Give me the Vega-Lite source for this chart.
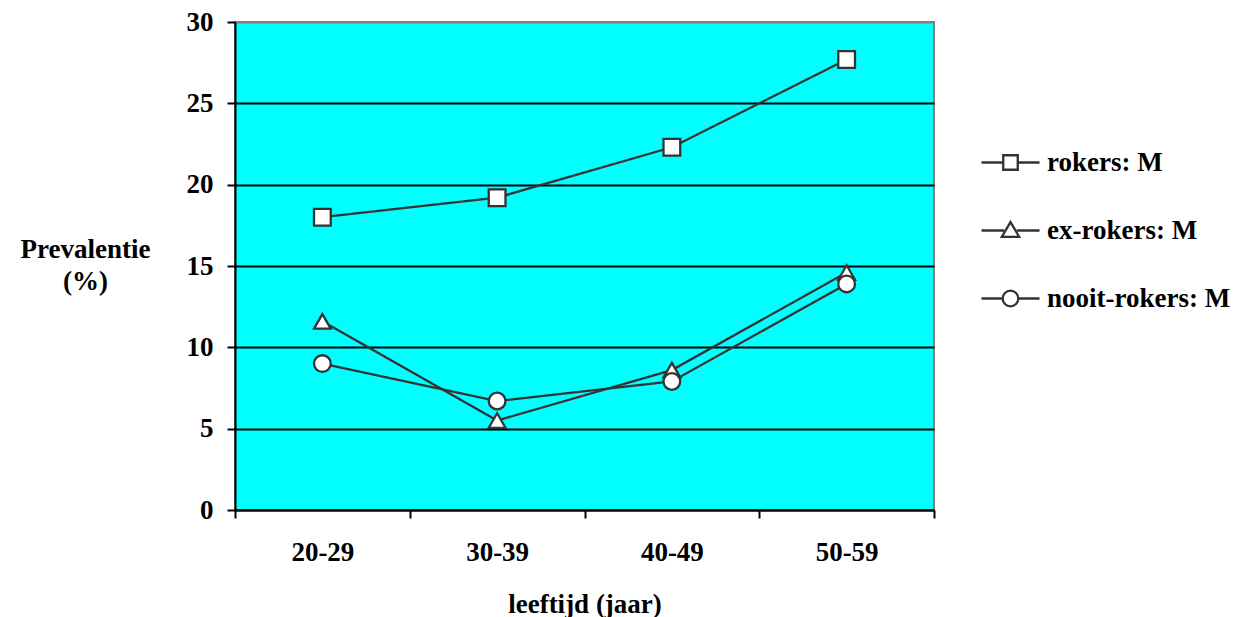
{
  "$schema": "https://vega.github.io/schema/vega-lite/v6.json",
  "width": 699,
  "height": 488,
  "autosize": {"type": "none"},
  "padding": {"left": 235, "top": 22, "right": 323, "bottom": 107},
  "background": "white",
  "config": {
    "font": "Liberation Serif",
    "view": {"fill": "#00FFFF", "stroke": "#808080", "strokeWidth": 2},
    "axis": {
      "labelFont": "Liberation Serif",
      "labelFontWeight": "bold",
      "labelFontSize": 27,
      "labelColor": "black",
      "titleFont": "Liberation Serif",
      "titleFontWeight": "bold",
      "titleFontSize": 27,
      "titleColor": "black",
      "domainColor": "black",
      "domainWidth": 2,
      "tickColor": "black",
      "tickWidth": 2,
      "tickSize": 8
    }
  },
  "data": {
    "values": [
      {"leeftijd": "20-29", "groep": "rokers: M", "prevalentie": 18.0},
      {"leeftijd": "30-39", "groep": "rokers: M", "prevalentie": 19.2},
      {"leeftijd": "40-49", "groep": "rokers: M", "prevalentie": 22.3},
      {"leeftijd": "50-59", "groep": "rokers: M", "prevalentie": 27.7},
      {"leeftijd": "20-29", "groep": "ex-rokers: M", "prevalentie": 11.6},
      {"leeftijd": "30-39", "groep": "ex-rokers: M", "prevalentie": 5.5},
      {"leeftijd": "40-49", "groep": "ex-rokers: M", "prevalentie": 8.6},
      {"leeftijd": "50-59", "groep": "ex-rokers: M", "prevalentie": 14.6},
      {"leeftijd": "20-29", "groep": "nooit-rokers: M", "prevalentie": 9.0},
      {"leeftijd": "30-39", "groep": "nooit-rokers: M", "prevalentie": 6.7},
      {"leeftijd": "40-49", "groep": "nooit-rokers: M", "prevalentie": 7.9},
      {"leeftijd": "50-59", "groep": "nooit-rokers: M", "prevalentie": 13.9}
    ]
  },
  "encoding": {
    "x": {
      "field": "leeftijd",
      "type": "ordinal",
      "scale": {"type": "band", "paddingInner": 0, "paddingOuter": 0},
      "axis": {
        "title": "leeftijd (jaar)",
        "labelAngle": 0,
        "tickBand": "extent",
        "labelPadding": 21,
        "titlePadding": 26
      }
    },
    "y": {
      "field": "prevalentie",
      "type": "quantitative",
      "scale": {"domain": [0, 30], "nice": false},
      "axis": {
        "values": [0, 5, 10, 15, 20, 25, 30],
        "grid": true,
        "gridWidth": 2,
        "gridColor": {"condition": {"test": "datum.value === 30", "value": "#808080"}, "value": "black"},
        "labelPadding": 14,
        "title": ["Prevalentie", "(%)"],
        "titleAngle": 0,
        "titleAlign": "center",
        "titleBaseline": "middle",
        "titleX": -150,
        "titleY": 227,
        "titleLineHeight": 32
      }
    }
  },
  "layer": [
    {
      "mark": {"type": "line", "stroke": "#333333", "strokeWidth": 2.3},
      "encoding": {"detail": {"field": "groep"}}
    },
    {
      "mark": {"type": "point", "filled": true, "fill": "white", "stroke": "#333333", "strokeWidth": 2.3, "size": 280, "opacity": 1},
      "encoding": {
        "shape": {
          "field": "groep",
          "type": "nominal",
          "scale": {
            "domain": ["rokers: M", "ex-rokers: M", "nooit-rokers: M"],
            "range": ["square", "triangle-up", "circle"]
          },
          "legend": null
        }
      }
    },
    {
      "transform": [{"filter": "false"}],
      "mark": {"type": "point", "filled": false, "stroke": "#333333", "strokeWidth": 2.3, "opacity": 1},
      "encoding": {
        "shape": {
          "field": "groep",
          "type": "nominal",
          "scale": {
            "domain": ["rokers: M", "ex-rokers: M", "nooit-rokers: M"],
            "range": [
              "M-1,0H-0.25M0.25,0H1M-0.25,-0.25H0.25V0.25H-0.25Z",
              "M-1,0H-0.22M0.22,0H1M0,-0.29L0.3,0.22H-0.3Z",
              "M-1,0H-0.27M0.27,0H1M0.27,0A0.27,0.27 0 1,1 -0.27,0A0.27,0.27 0 1,1 0.27,0Z"
            ]
          },
          "legend": {
            "title": null,
            "orient": "none",
            "legendX": 745,
            "legendY": 110,
            "symbolSize": 3364,
            "symbolStrokeColor": "#333333",
            "symbolStrokeWidth": 2.3,
            "labelFont": "Liberation Serif",
            "labelFontWeight": "bold",
            "labelFontSize": 27,
            "labelColor": "black",
            "labelOffset": 6,
            "labelLimit": 300,
            "rowPadding": 24,
            "encode": {
              "symbols": {
                "update": {
                  "stroke": {"value": "#333333"},
                  "strokeWidth": {"value": 2.3}
                }
              }
            }
          }
        }
      }
    }
  ],
  "resolve": {"scale": {"shape": "independent"}, "legend": {"shape": "independent"}}
}
